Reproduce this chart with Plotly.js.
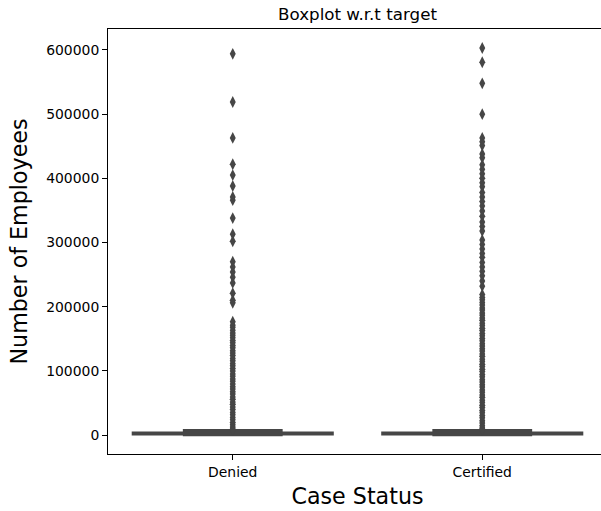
<!DOCTYPE html>
<html>
<head>
<meta charset="utf-8">
<script src="https://cdn.plot.ly/plotly-3.0.1.min.js"></script>
<style>
html, body { margin: 0; padding: 0; overflow: hidden; background: #fff; }
#chart { width: 612px; height: 511px; }
</style>
</head>
<body>
<div id="chart"></div>
<script>
// Categories
const categories = ['Denied', 'Certified'];

// Box statistics (number of employees)
const q1Values = [1000, 1025];
const medianValues = [2100, 2110];
const q3Values = [3500, 3510];
const lowerFenceValues = [12, -26];
const upperFenceValues = [7300, 7230];

// Outliers
const deniedOutliers = [594000, 519000, 463000, 422000, 405000, 388000, 371000, 366000,
  338000, 313000, 302000, 270000, 262000, 254000, 246000, 237000, 221000, 210000, 206000,
  176400, 171200, 167800, 163100, 158900, 155300, 151700, 147200, 143800, 139500, 135900,
  131200, 127600, 123900, 119400, 115800, 111300, 107900, 103600, 99800, 95200, 91700,
  87400, 83900, 79600, 75100, 71800, 67300, 63900, 59400, 55800, 51300, 47900, 43600,
  39800, 35200, 31700, 27400, 23900, 19600, 15800, 12300, 9400, 7800];

const certifiedOutliers = [603000, 581000, 548000, 500000,
  463000, 457000, 451000,
  438000, 432000,
  421000, 414000, 407000, 400000, 393000, 387000,
  378000, 371000, 364000, 357000, 349000, 341000,
  332000, 325000, 318000,
  304000, 297000, 290000, 283000, 277000,
  269000, 262000, 255000, 248000, 240000, 232000,
  219000, 214200, 210800, 206300, 202600, 198100, 194700, 190200, 186800, 182400,
  178900, 174300, 170800, 166400, 162900, 158200, 154800, 150300, 146700, 142400, 138800,
  134300, 130900, 126400, 122800, 118200, 114700, 110300, 106800, 102400, 98900, 94300,
  90800, 86200, 82700, 78400, 74800, 70300, 66800, 62400, 58900, 54300, 50800, 46400,
  42900, 38300, 34800, 30400, 26900, 22300, 18800, 14400, 10900, 8900, 7600];

// Y ticks
const yTickValues = [0, 100000, 200000, 300000, 400000, 500000, 600000];
const yTickLabels = ['0', '100000', '200000', '300000', '400000', '500000', '600000'];

const boxColor = '#464646';
const font = 'DejaVu Sans, sans-serif';

const outX = [];
const outY = [];
deniedOutliers.forEach(v => { outX.push(categories[0]); outY.push(v); });
certifiedOutliers.forEach(v => { outX.push(categories[1]); outY.push(v); });

const traces = [
  {
    type: 'box',
    x: categories,
    q1: q1Values,
    median: medianValues,
    q3: q3Values,
    lowerfence: lowerFenceValues,
    upperfence: upperFenceValues,
    boxpoints: false,
    width: 0.8,
    whiskerwidth: 0.5,
    fillcolor: boxColor,
    line: { color: boxColor, width: 2.5 },
    hoverinfo: 'skip',
    showlegend: false
  },
  {
    type: 'scatter',
    mode: 'markers',
    x: outX,
    y: outY,
    marker: { symbol: 'diamond-tall', size: 8.5, color: boxColor, line: { width: 0 } },
    hoverinfo: 'skip',
    showlegend: false
  }
];

const layout = {
  width: 612,
  height: 511,
  margin: { l: 108, r: 5, t: 29, b: 57 },
  paper_bgcolor: '#ffffff',
  plot_bgcolor: '#ffffff',
  font: { family: font, color: '#000' },
  title: {
    text: 'Boxplot w.r.t target',
    font: { family: font, size: 16.7, color: '#000' },
    xref: 'paper', x: 0.5, xanchor: 'center',
    yref: 'container', y: 1 - 14 / 511, yanchor: 'middle'
  },
  xaxis: {
    type: 'category',
    categoryorder: 'array',
    categoryarray: categories,
    range: [-0.5, 1.5],
    showline: true, mirror: true, linecolor: '#000', linewidth: 1,
    ticks: 'outside', ticklen: 5, tickwidth: 1, tickcolor: '#000',
    tickfont: { family: font, size: 13.9, color: '#000' },
    showgrid: false, zeroline: false,
    title: { text: 'Case Status', font: { family: font, size: 22.2, color: '#000' }, standoff: 9 }
  },
  yaxis: {
    range: [-29600, 632700],
    tickvals: yTickValues,
    ticktext: yTickLabels,
    showline: true, mirror: true, linecolor: '#000', linewidth: 1,
    ticks: 'outside', ticklen: 5, tickwidth: 1, tickcolor: '#000',
    tickfont: { family: font, size: 13.9, color: '#000' },
    showgrid: false, zeroline: false,
    title: { text: 'Number of Employees', font: { family: font, size: 22.2, color: '#000' }, standoff: 12 }
  }
};

Plotly.newPlot('chart', traces, layout, { displayModeBar: false, staticPlot: true });
</script>
</body>
</html>
